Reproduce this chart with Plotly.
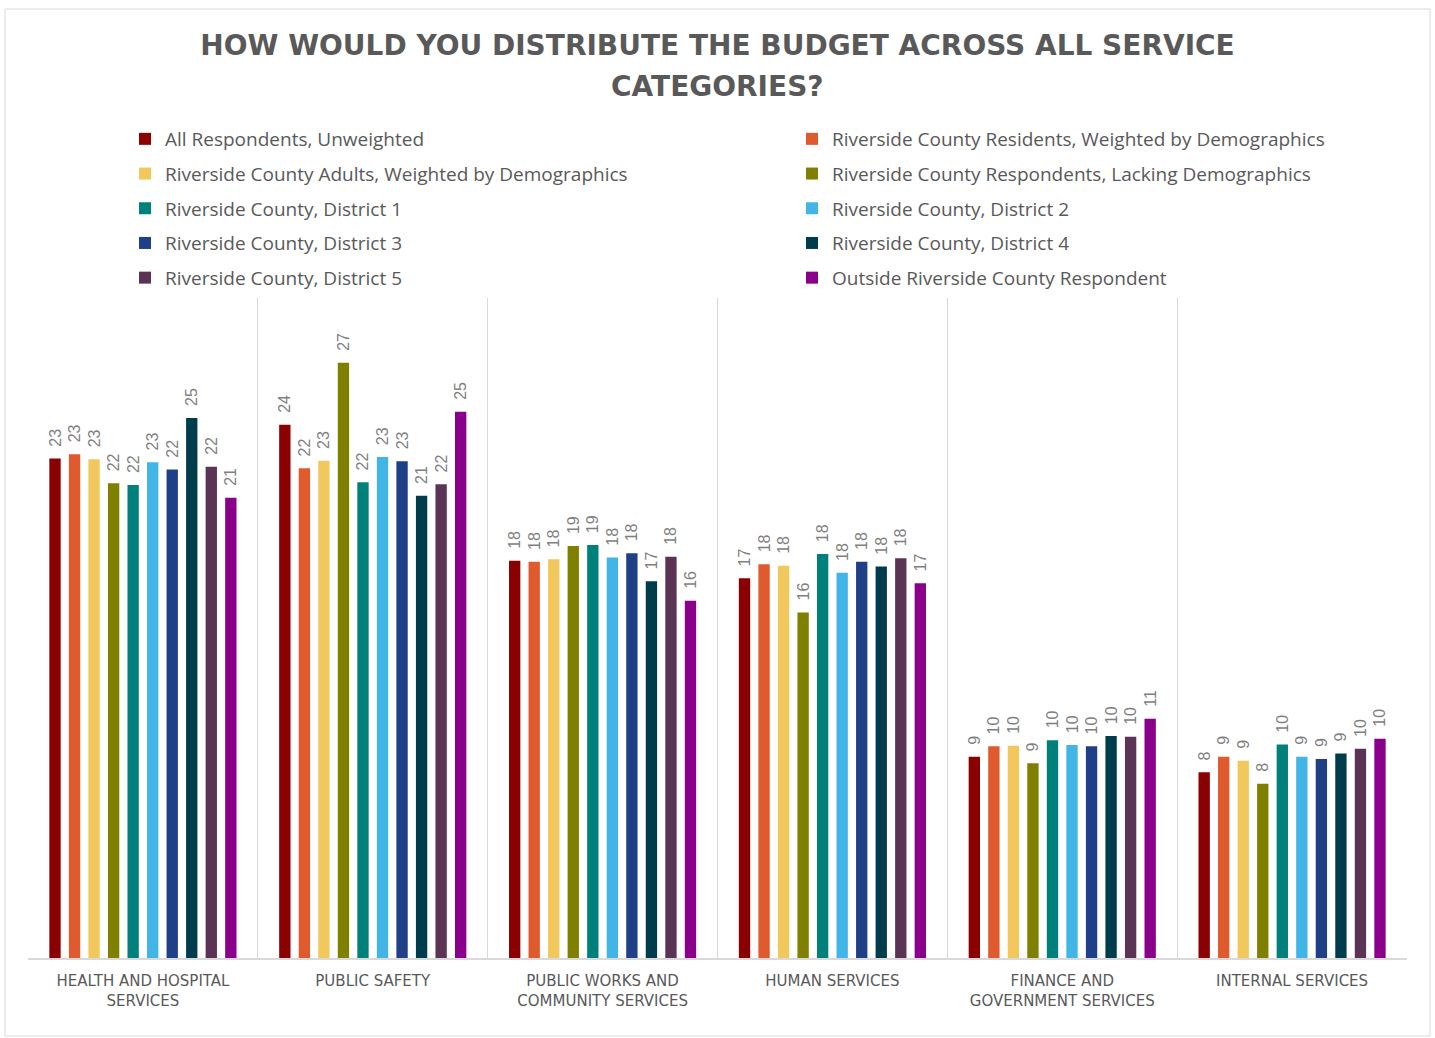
import plotly.graph_objects as go

categories = [
    "HEALTH AND HOSPITAL<br>SERVICES",
    "PUBLIC SAFETY",
    "PUBLIC WORKS AND<br>COMMUNITY SERVICES",
    "HUMAN SERVICES",
    "FINANCE AND<br>GOVERNMENT SERVICES",
    "INTERNAL SERVICES",
]

series_names = [
    "All Respondents, Unweighted",
    "Riverside County Residents, Weighted by Demographics",
    "Riverside County Adults, Weighted by Demographics",
    "Riverside County Respondents, Lacking Demographics",
    "Riverside County, District 1",
    "Riverside County, District 2",
    "Riverside County, District 3",
    "Riverside County, District 4",
    "Riverside County, District 5",
    "Outside Riverside County Respondent",
]

all_unweighted = [22.7, 24.24, 18.06, 17.26, 9.15, 8.44]
residents_weighted = [22.9, 22.26, 18.01, 17.9, 9.62, 9.15]
adults_weighted = [22.67, 22.6, 18.12, 17.83, 9.65, 8.97]
lacking_demo = [21.58, 27.06, 18.73, 15.71, 8.85, 7.92]
district1 = [21.5, 21.62, 18.77, 18.36, 9.9, 9.7]
district2 = [22.53, 22.77, 18.2, 17.51, 9.68, 9.15]
district3 = [22.2, 22.58, 18.4, 18.01, 9.62, 9.05]
district4 = [24.55, 21.01, 17.12, 17.79, 10.09, 9.3]
district5 = [22.33, 21.53, 18.24, 18.17, 10.06, 9.51]
outside = [20.92, 24.83, 16.24, 17.03, 10.88, 9.97]

series_values = [
    all_unweighted, residents_weighted, adults_weighted, lacking_demo,
    district1, district2, district3, district4, district5, outside,
]

colors = [
    "#8B0000", "#DF5A2C", "#F2C75C", "#7F7F00", "#00807A",
    "#41B6E6", "#1F3F87", "#003D4C", "#5B3354", "#8B008B",
]

W, H = 1435, 1038
L, R, T, B = 28, 28, 298, 80
pw, ph = W - L - R, H - T - B

fig = go.Figure()
for i, (name, vals, col) in enumerate(zip(series_names, series_values, colors)):
    fig.add_trace(go.Bar(
        x=categories, y=vals, name=name,
        legend="legend" if i % 2 == 0 else "legend2",
        legendgroup=f"g{i}",
        marker=dict(color=col, line=dict(width=0)),
        text=["\u00a0\u00a0" + f"{v:.0f}" for v in vals],
        textposition="outside", textangle=-90,
        textfont=dict(family="Liberation Sans, Arial", size=16, color="#7F7F7F"),
        constraintext="none", cliponaxis=False,
    ))

legend_common = dict(
    orientation="v", yanchor="top", y=1 + (T - 120) / ph, xanchor="left",
    font=dict(family="Open Sans", size=19, color="#595959"),
    itemclick=False, itemdoubleclick=False, tracegroupgap=7, itemwidth=30,
    bgcolor="rgba(0,0,0,0)",
)

fig.update_layout(
    width=W, height=H,
    margin=dict(l=L, r=R, t=T, b=B, autoexpand=False),
    paper_bgcolor="white", plot_bgcolor="white",
    barmode="group", bargap=0.15, bargroupgap=0.42,
    title=dict(
        text="HOW WOULD YOU DISTRIBUTE THE BUDGET ACROSS ALL SERVICE",
        x=0.5, xanchor="center", y=1 - 45 / H, yanchor="middle",
        font=dict(family="DejaVu Sans", size=28, color="#595959", weight="bold"),
    ),
    legend=dict(x=(125 - L) / pw, **legend_common),
    legend2=dict(x=(792 - L) / pw, **legend_common),
    xaxis=dict(
        tickson="boundaries", showgrid=True, gridcolor="#D9D9D9", gridwidth=1,
        showline=True, linecolor="#D9D9D9", linewidth=2,
        ticks="", ticklabelstandoff=8,
        tickfont=dict(family="DejaVu Sans", size=15, color="#595959"),
    ),
    yaxis=dict(range=[0, 30], visible=False, showgrid=False, zeroline=False),
    showlegend=True,
)

fig.add_annotation(
    text="CATEGORIES?", xref="paper", yref="paper",
    x=0.5, xanchor="center", y=1 + (T - 87) / ph, yanchor="middle",
    showarrow=False,
    font=dict(family="DejaVu Sans", size=28, color="#595959", weight="bold"),
)

fig.add_shape(type="rect", xref="paper", yref="paper",
              x0=(5 - L) / pw, x1=(1430 - L) / pw,
              y0=(H - B - 1036) / ph, y1=(H - B - 9) / ph,
              line=dict(color="#D9D9D9", width=1), layer="below")

fig.write_html("out.html")
